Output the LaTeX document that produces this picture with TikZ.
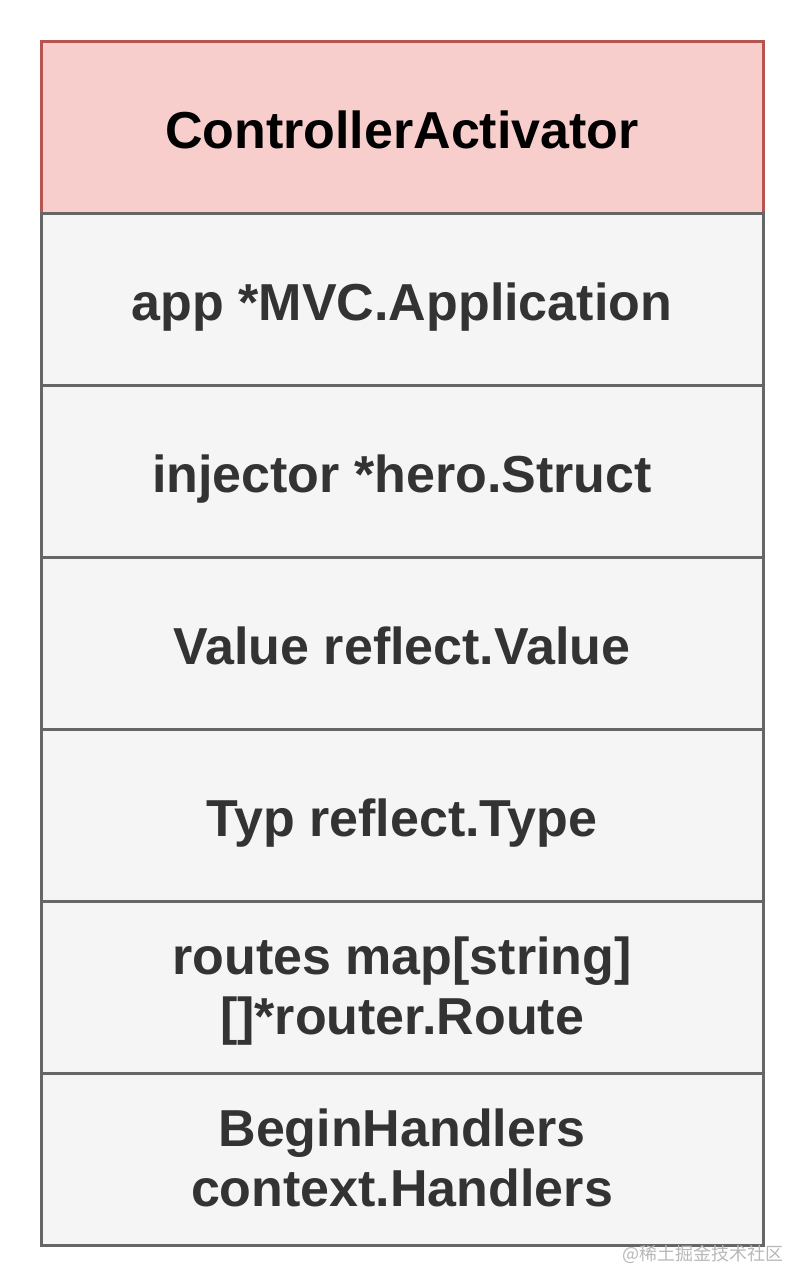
\documentclass[tikz,border=0pt]{standalone}
\usepackage{fontspec}
\setmainfont{Liberation Sans}
\newfontfamily\cjkfont{Noto Sans CJK SC}
\usetikzlibrary{positioning}
\definecolor{headfill}{RGB}{248,206,204}
\definecolor{headline}{RGB}{184,84,80}
\definecolor{rowfill}{RGB}{245,245,245}
\definecolor{rowline}{RGB}{102,102,102}
\definecolor{rowtext}{RGB}{51,51,51}
\newcommand{\topstrut}{\rule{0pt}{46pt}}
\newcommand{\botstrut}{\rule[-12pt]{0pt}{12pt}}

\begin{document}
\begin{tikzpicture}[x=1pt,y=-1pt,
  field/.style={draw=rowline, fill=rowfill, line width=3pt, minimum width=722pt, minimum height=172pt,
    inner sep=0pt, outer sep=0pt, text=rowtext, align=center, text height=46pt, text depth=4pt,
    font=\fontsize{52}{60}\selectfont\bfseries},
  twoline/.style={field, text height=, text depth=},
  head/.style={field, draw=headline, fill=headfill, text=black}]
\useasboundingbox (0,0) rectangle (804,1288);
\node[head] (cls) at (402,127) {ControllerActivator};
\node[field, below=0pt of cls] (app) {app *MVC.Application};
\node[field, below=0pt of app] (inj) {injector *hero.Struct};
\node[field, below=0pt of inj] (val) {Value reflect.Value};
\node[field, below=0pt of val] (typ) {Typ reflect.Type};
\node[twoline, below=0pt of typ] (routes) {\topstrut routes map[string]\\{}[]*router.Route\botstrut};
\node[twoline, below=0pt of routes] (begin) {\topstrut BeginHandlers\\context.Handlers\botstrut};
% watermark
\node[text=black!28, font=\cjkfont\fontsize{18}{18}\selectfont] (mark) at (703,1254) {@稀土掘金技术社区};
\end{tikzpicture}
\end{document}
